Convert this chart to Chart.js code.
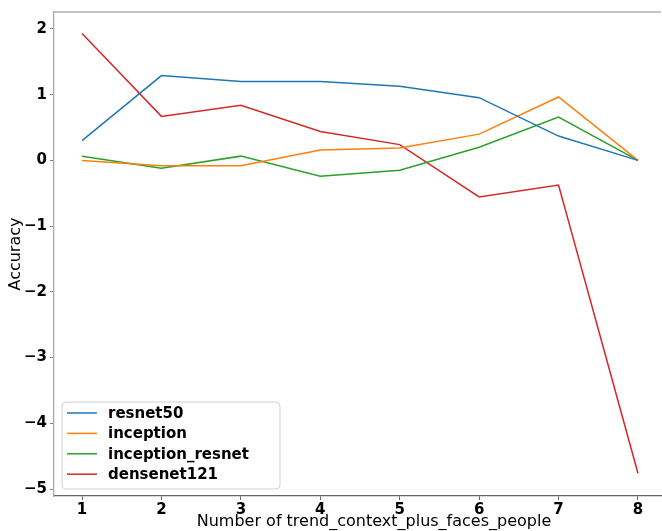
<!DOCTYPE html>
<html>
<head>
<meta charset="utf-8">
<script src="https://cdn.jsdelivr.net/npm/chart.js@4/dist/chart.umd.min.js"></script>
<style>
  html, body { margin: 0; padding: 0; background: #fff; }
  #wrap { width: 662px; height: 531px; }
</style>
</head>
<body>
<div id="wrap"><canvas id="c" width="662" height="531"></canvas></div>
<script>
// Number of trend_context_plus_faces_people
const categories = [1, 2, 3, 4, 5, 6, 7, 8];

const resnet50 = [0.30, 1.29, 1.20, 1.20, 1.13, 0.955, 0.37, 0.0];
const inception = [0.0, -0.08, -0.08, 0.16, 0.19, 0.40, 0.965, 0.0];
const inceptionResnet = [0.065, -0.12, 0.065, -0.24, -0.15, 0.20, 0.66, 0.0];
const densenet121 = [1.93, 0.67, 0.84, 0.44, 0.24, -0.555, -0.375, -4.76];

const yTicks = [2, 1, 0, -1, -2, -3, -4, -5];
const xTicks = [1, 2, 3, 4, 5, 6, 7, 8];

const xTitle = 'Number of trend_context_plus_faces_people';
const yTitle = 'Accuracy';

const seriesNames = ['resnet50', 'inception', 'inception_resnet', 'densenet121'];
const seriesValues = [resnet50, inception, inceptionResnet, densenet121];
const seriesColors = ['#1f77b4', '#ff7f0e', '#2ca02c', '#d62728'];

const datasets = seriesNames.map((name, i) => ({
  label: name,
  data: categories.map((x, j) => ({ x: x, y: seriesValues[i][j] })),
  borderColor: seriesColors[i],
  backgroundColor: seriesColors[i],
  borderWidth: 1.5,
  pointRadius: 0,
  tension: 0,
  fill: false
}));

const tickFont = { family: 'DejaVu Sans', size: 15, weight: 'bold' };
const titleFont = { family: 'DejaVu Sans', size: 16, weight: 'normal' };

const fmt = v => (v < 0 ? '\u2212' + Math.abs(v) : String(v));

// Top spine of the axes frame and the x-axis title
const framePlugin = {
  id: 'frame',
  afterDraw(chart) {
    const { ctx, chartArea: a } = chart;
    ctx.save();
    ctx.strokeStyle = '#b0b0b0';
    ctx.lineWidth = 1.5;
    ctx.beginPath();
    ctx.moveTo(a.left, a.top);
    ctx.lineTo(a.right, a.top);
    ctx.stroke();
    ctx.font = '16px "DejaVu Sans"';
    ctx.fillStyle = '#000';
    ctx.textAlign = 'center';
    ctx.textBaseline = 'middle';
    ctx.fillText(xTitle, a.left + 320, chart.height - 9);
    ctx.restore();
  }
};

// Legend box in the lower-left corner of the plot area
const boxLegend = {
  id: 'boxLegend',
  afterDraw(chart) {
    const { ctx, chartArea: a } = chart;
    const x0 = a.left + 8, y0 = a.bottom - 94, w = 218, h = 87, r = 4;
    ctx.save();
    ctx.fillStyle = 'rgba(255,255,255,0.8)';
    ctx.strokeStyle = '#d0d0d0';
    ctx.lineWidth = 1;
    ctx.beginPath();
    ctx.moveTo(x0 + r, y0);
    ctx.lineTo(x0 + w - r, y0);
    ctx.arcTo(x0 + w, y0, x0 + w, y0 + r, r);
    ctx.lineTo(x0 + w, y0 + h - r);
    ctx.arcTo(x0 + w, y0 + h, x0 + w - r, y0 + h, r);
    ctx.lineTo(x0 + r, y0 + h);
    ctx.arcTo(x0, y0 + h, x0, y0 + h - r, r);
    ctx.lineTo(x0, y0 + r);
    ctx.arcTo(x0, y0, x0 + r, y0, r);
    ctx.closePath();
    ctx.fill();
    ctx.stroke();
    ctx.font = 'bold 15px "DejaVu Sans"';
    ctx.textBaseline = 'middle';
    ctx.textAlign = 'left';
    chart.data.datasets.forEach((ds, i) => {
      const yy = y0 + 11 + i * 20.4;
      ctx.strokeStyle = ds.borderColor;
      ctx.lineWidth = 1.5;
      ctx.beginPath();
      ctx.moveTo(x0 + 5, yy);
      ctx.lineTo(x0 + 35, yy);
      ctx.stroke();
      ctx.fillStyle = '#000';
      ctx.fillText(ds.label, x0 + 46, yy + 1);
    });
    ctx.restore();
  }
};

new Chart(document.getElementById('c'), {
  type: 'line',
  data: { datasets: datasets },
  plugins: [framePlugin, boxLegend],
  options: {
    responsive: false,
    animation: false,
    layout: { padding: { top: 10, right: 1, left: 0, bottom: 0 } },
    plugins: { legend: { display: false }, tooltip: { enabled: false } },
    scales: {
      x: {
        type: 'linear',
        min: 0.647,
        max: 8.29,
        afterFit(scale) { scale.height = 35; },
        afterBuildTicks(scale) { scale.ticks = xTicks.map(v => ({ value: v })); },
        ticks: { font: tickFont, color: '#000', padding: 1, maxRotation: 0, autoSkip: false,
                 callback: v => fmt(v) },
        grid: { drawOnChartArea: false, drawTicks: true, tickLength: 4, color: '#666' },
        border: { color: '#666', width: 1.3 },
        title: { display: false }
      },
      y: {
        type: 'linear',
        min: -5.106,
        max: 2.258,
        afterFit(scale) { scale.width = 54; },
        afterBuildTicks(scale) { scale.ticks = yTicks.map(v => ({ value: v })); },
        ticks: { font: tickFont, color: '#000', padding: 3, autoSkip: false,
                 callback: v => fmt(v) },
        grid: { drawOnChartArea: false, drawTicks: true, tickLength: 4, color: '#888' },
        border: { color: '#aaa', width: 1.3 },
        title: { display: true, text: yTitle, font: titleFont, color: '#000',
                 padding: { top: 6, bottom: 0 } }
      }
    }
  }
});
</script>
</body>
</html>
